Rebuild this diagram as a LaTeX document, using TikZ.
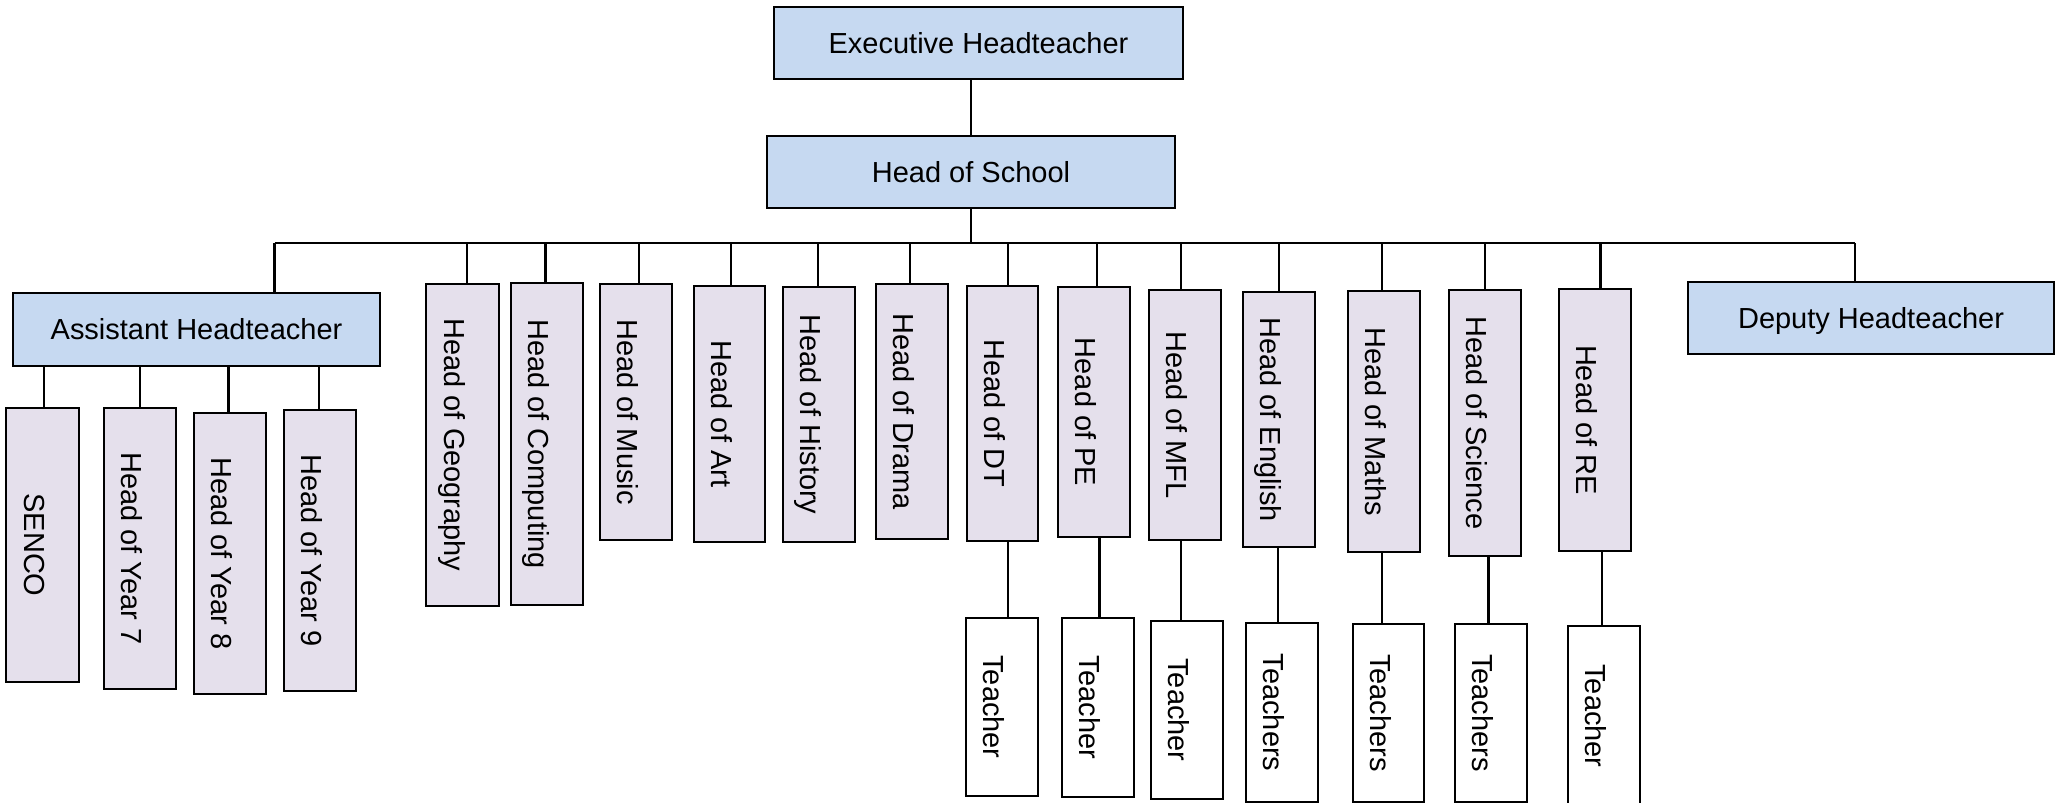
\documentclass[tikz,border=0pt]{standalone}
\usepackage{fontspec}
\setmainfont{Liberation Sans}
\definecolor{headblue}{HTML}{C6D9F1}
\definecolor{deptlilac}{HTML}{E5E0EC}
\tikzset{
  box/.style={draw=black, line width=1.1pt, inner sep=0pt,
    font=\fontsize{16.5}{19}\selectfont},
  wh/.style 2 args={minimum width=#1*0.02cm, minimum height=#2*0.02cm},
  lead/.style={box, fill=headblue, text height=11.8pt, text depth=0pt},
  dept/.style={box, fill=deptlilac, rotate=-90, text height=20.8pt, text depth=0pt},
  staff/.style={box, fill=white, rotate=-90, text height=20.8pt, text depth=0pt},
  link/.style={line width=1.2pt},
}
\begin{document}
\begin{tikzpicture}[x=0.02cm, y=-0.02cm]
  \fill[white] (0,0) rectangle (2064,803);
  \useasboundingbox (0,0) rectangle (2064,803);

  % senior leadership
  \node[lead, wh={409}{72}] (exec) at (978.5,43) {Executive Headteacher};
  \node[lead, wh={408}{72}] (hos) at (971,172) {Head of School};
  \node[lead, wh={367}{73}] (ah) at (196.5,329.5) {Assistant Headteacher};
  \node[lead, wh={366}{72}] (dep) at (1871,318) {Deputy Headteacher};

  % pastoral roles under the assistant headteacher
  \node[dept, wh={274}{73}] (senco) at (42.5,545) {SENCO};
  \node[dept, wh={281}{72}] (y7) at (140,548.5) {Head of Year 7};
  \node[dept, wh={281}{72}] (y8) at (230,553.5) {Head of Year 8};
  \node[dept, wh={281}{72}] (y9) at (320,550.5) {Head of Year 9};

  % subject leaders
  \node[dept, wh={322}{73}] (geo) at (462.5,445) {Head of Geography};
  \node[dept, wh={322}{72}] (comp) at (547,444) {Head of Computing};
  \node[dept, wh={256}{72}] (music) at (636,412) {Head of Music};
  \node[dept, wh={256}{71}] (art) at (729.5,414) {Head of Art};
  \node[dept, wh={255}{72}] (hist) at (819,414.5) {Head of History};
  \node[dept, wh={255}{72}] (drama) at (912,411.5) {Head of Drama};
  \node[dept, wh={255}{71}] (dt) at (1002.5,413.5) {Head of DT};
  \node[dept, wh={250}{72}] (pe) at (1094,412) {Head of PE};
  \node[dept, wh={250}{72}] (mfl) at (1185,415) {Head of MFL};
  \node[dept, wh={255}{72}] (eng) at (1279,419.5) {Head of English};
  \node[dept, wh={261}{72}] (maths) at (1384,421.5) {Head of Maths};
  \node[dept, wh={266}{72}] (sci) at (1485,423) {Head of Science};
  \node[dept, wh={262}{72}] (re) at (1595,420) {Head of RE};

  % teaching staff
  \node[staff, wh={178}{72}] (dtT) at (1002,707) {Teacher};
  \node[staff, wh={179}{72}] (peT) at (1098,707.5) {Teacher};
  \node[staff, wh={178}{72}] (mflT) at (1187,710) {Teacher};
  \node[staff, wh={179}{72}] (engT) at (1282,712.5) {Teachers};
  \node[staff, wh={178}{71}] (mathsT) at (1388.5,713) {Teachers};
  \node[staff, wh={178}{72}] (sciT) at (1491,713) {Teachers};
  \node[staff, wh={180}{72}] (reT) at (1604,716) {Teacher};

  % distribution bar
  \coordinate (busL) at (274.5,243);
  \coordinate (busR) at (1855,243);

  \draw[link] (hos.north |- exec.south) -- (hos.north);
  \draw[link] (hos.south) -- (hos.south |- busL);
  \draw[link] (busL) -- (busR);
  \draw[link] (busL) -- (busL |- ah.north);
  \draw[link] (busR) -- (busR |- dep.north);

  % drops from the bar to each subject leader (offset from the box centre)
  \foreach \n/\s in {geo/4.5,comp/-1.5,music/3,art/1.5,hist/-1,drama/-2,dt/5.5,
                     pe/3,mfl/-4,eng/0,maths/-2,sci/0,re/5.5} {
    \coordinate (\n-t) at ([xshift=\s*0.02cm]\n.west);
    \draw[link] (\n-t |- busL) -- (\n-t);
  }

  \foreach \n/\s in {senco/1.5,y7/0,y8/-1.5,y9/-1} {
    \coordinate (\n-t) at ([xshift=\s*0.02cm]\n.west);
    \draw[link] (\n-t |- ah.south) -- (\n-t);
  }

  % subject leader to teaching staff
  \foreach \d/\t/\s in {dt/dtT/5.5,pe/peT/5.5,mfl/mflT/-4,eng/engT/-1,
                        maths/mathsT/-2,sci/sciT/3.5,re/reT/7} {
    \coordinate (\d-b) at ([xshift=\s*0.02cm]\d.east);
    \draw[link] (\d-b) -- (\d-b |- \t.west);
  }
\end{tikzpicture}
\end{document}
